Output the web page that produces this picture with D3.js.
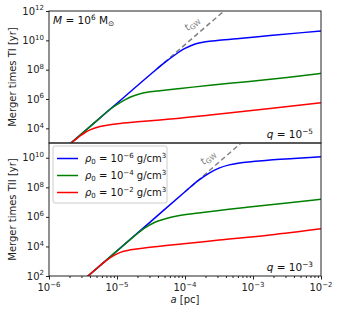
<!DOCTYPE html>
<html>
<head>
<meta charset="utf-8">
<script src="https://cdn.jsdelivr.net/npm/d3@7"></script>
<style>
  body { margin: 0; background: #fff; }
  text { font-family: 'DejaVu Sans', sans-serif; }
</style>
</head>
<body>
<svg id="chart" width="340" height="315"></svg>
<script>
// separation a [pc] and merger times [yr]
// panel I : q = 1e-5
const aBlueI  = [1.78e-6, 1e-5, 3.16e-5, 5.01e-5, 7.08e-5, 1e-4, 1.41e-4, 2e-4, 3.16e-4, 6.31e-4, 1.78e-3, 1e-2]
const tBlueI  = [5.1e2, 5.1e5, 5.1e7, 3.0e8, 1.0e9, 2.8e9, 5.6e9, 7.9e9, 1e10, 1.35e10, 2.1e10, 4.4e10]
const aGreenI = [1.78e-6, 5.01e-6, 7.94e-6, 1.11e-5, 1.55e-5, 2.19e-5, 3.05e-5, 4.27e-5, 8.51e-5, 2.34e-4, 8.13e-4, 3.16e-3, 1e-2]
const tGreenI = [5.1e2, 3.2e4, 2.0e5, 5.6e5, 1.32e6, 2.3e6, 3.1e6, 3.7e6, 5.2e6, 8.7e6, 1.51e7, 2.95e7, 5.6e7]
const aRedI   = [1.78e-6, 2.4e-6, 2.86e-6, 3.39e-6, 4.01e-6, 5.62e-6, 7.94e-6, 1.11e-5, 2.24e-5, 4.27e-5, 2.34e-4, 1.78e-3, 1e-2]
const tRedI   = [5.2e2, 1.58e3, 3.0e3, 5.2e3, 7.9e3, 1.32e4, 1.78e4, 2.14e4, 2.9e4, 3.7e4, 8.1e4, 2.24e5, 5.6e5]
const aGwI    = [4e-5, 4e-4]
const tGwI    = [1.3e8, 1.3e12]

// panel II : q = 1e-3
const aBlueII  = [3.16e-6, 1e-5, 3.16e-5, 1e-4, 1.58e-4, 2.24e-4, 3.16e-4, 4.47e-4, 6.31e-4, 1e-3, 1.78e-3, 3.98e-3, 1e-2]
const tBlueII  = [5e1, 5e3, 5e5, 5e7, 3.0e8, 8.9e8, 2.0e9, 3.3e9, 4.5e9, 5.5e9, 7.1e9, 8.9e9, 1.17e10]
const aGreenII = [3.16e-6, 1e-5, 1.78e-5, 2.51e-5, 3.55e-5, 5.01e-5, 7.94e-5, 1.58e-4, 8.13e-4, 3.16e-3, 1e-2]
const tGreenII = [5e1, 5e3, 4.8e4, 1.66e5, 4.2e5, 7.2e5, 1.2e6, 1.86e6, 4.5e6, 8.7e6, 1.55e7]
const aRedII   = [3.16e-6, 5.01e-6, 7.08e-6, 8.91e-6, 1.12e-5, 1.58e-5, 2.51e-5, 6.31e-5, 3.16e-4, 1.78e-3, 1e-2]
const tRedII   = [5e1, 3.2e2, 1.17e3, 2.4e3, 4.0e3, 5.9e3, 7.9e3, 1.26e4, 2.7e4, 6.0e4, 1.58e5]
const aGwII    = [1e-4, 1e-3]
const tGwII    = [5e7, 5e11]

const xTickExp  = ['−6', '−5', '−4', '−3', '−2']
const yTickExpI  = ['4', '6', '8', '10', '12']
const yTickExpII = ['2', '4', '6', '8', '10']
const densityExp = ['−6', '−4', '−2']

const colors = ['#0000ff', '#008000', '#ff0000']

const svg = d3.select('#chart')
const left = 49, right = 321

const x = d3.scaleLog().domain([1e-6, 1e-2]).range([left, right])

// text with super/subscripts: parts = [[string, 'n'|'sup'|'sub'|'i'], ...]
function richText(sel, parts, size) {
    let shift = 0
    parts.forEach(([s, kind]) => {
        const ts = sel.append('tspan').text(s)
        let target = 0
        if (kind === 'sup') target = -size * 0.42
        if (kind === 'sub') target = size * 0.22
        ts.attr('dy', target - shift)
        shift = target
        if (kind === 'sup' || kind === 'sub') ts.attr('font-size', size * 0.7)
        if (kind === 'i') ts.attr('font-style', 'italic')
    })
    return sel
}

function drawPanel({ top, bottom, yDomain, yTickExp, series, gwA, gwT, gwLabel, qExp, yLabel, clipId }) {
    const y = d3.scaleLog().domain(yDomain).range([bottom, top])
    const g = svg.append('g')

    g.append('clipPath').attr('id', clipId)
        .append('rect').attr('x', left).attr('y', top)
        .attr('width', right - left).attr('height', bottom - top)

    const plot = g.append('g').attr('clip-path', `url(#${clipId})`)

    const line = d3.line()
        .x(d => x(d[0]))
        .y(d => y(d[1]))
        .curve(d3.curveMonotoneX)

    // t_GW dashed line
    plot.append('path')
        .attr('d', line(d3.zip(gwA, gwT)))
        .attr('fill', 'none')
        .attr('stroke', '#808080')
        .attr('stroke-width', 1.5)
        .attr('stroke-dasharray', '5,3')

    series.forEach(([a, t], i) => {
        plot.append('path')
            .attr('d', line(d3.zip(a, t)))
            .attr('fill', 'none')
            .attr('stroke', colors[i])
            .attr('stroke-width', 1.5)
    })

    // t_GW label
    const angle = Math.atan2(y(gwT[0]) - y(gwT[1]), x(gwA[1]) - x(gwA[0])) * 180 / Math.PI
    richText(g.append('text')
        .attr('transform', `translate(${gwLabel[0]},${gwLabel[1]}) rotate(${-angle})`)
        .attr('text-anchor', 'middle')
        .attr('fill', '#808080')
        .attr('font-size', 10),
        [['t', 'i'], ['GW', 'sub']], 10)

    // y axis
    const yTicks = yTickExp.map(e => Math.pow(10, +e))
    const yAxis = g.append('g').attr('transform', `translate(${left},0)`)
        .call(d3.axisLeft(y).tickValues(yTicks).tickSize(3).tickFormat(''))
    yAxis.select('.domain').remove()
    yAxis.selectAll('line').attr('stroke', '#222')
    yTickExp.forEach((e, i) => {
        richText(g.append('text')
            .attr('x', left - 5).attr('y', y(yTicks[i]) + 3.5)
            .attr('text-anchor', 'end').attr('font-size', 10).attr('fill', '#222'),
            [['10', 'n'], [e, 'sup']], 10)
    })

    // y label
    richText(g.append('text')
        .attr('transform', `translate(16,${(top + bottom) / 2}) rotate(-90)`)
        .attr('text-anchor', 'middle').attr('font-size', 10).attr('fill', '#222'),
        [[yLabel, 'n']], 10)

    // q label
    richText(g.append('text')
        .attr('x', right - 8).attr('y', bottom - 5)
        .attr('text-anchor', 'end').attr('font-size', 10.5).attr('fill', '#111'),
        [['q', 'i'], [' = 10', 'n'], [qExp, 'sup']], 10.5)

    // frame
    g.append('rect')
        .attr('x', left).attr('y', top)
        .attr('width', right - left).attr('height', bottom - top)
        .attr('fill', 'none').attr('stroke', '#222').attr('stroke-width', 1)

    return y
}

drawPanel({
    top: 11, bottom: 143, yDomain: [1e3, 1e12], yTickExp: yTickExpI,
    series: [[aBlueI, tBlueI], [aGreenI, tGreenI], [aRedI, tRedI]],
    gwA: aGwI, gwT: tGwI, gwLabel: [194, 26], qExp: '−5',
    yLabel: 'Merger times TI [yr]', clipId: 'clipI'
})

drawPanel({
    top: 143, bottom: 276, yDomain: [1e2, 1e11], yTickExp: yTickExpII,
    series: [[aBlueII, tBlueII], [aGreenII, tGreenII], [aRedII, tRedII]],
    gwA: aGwII, gwT: tGwII, gwLabel: [210, 160], qExp: '−3',
    yLabel: 'Merger times TII [yr]', clipId: 'clipII'
})

// M label
richText(svg.append('text')
    .attr('x', 53).attr('y', 24).attr('font-size', 10.5).attr('fill', '#111'),
    [['M', 'i'], [' = 10', 'n'], ['6', 'sup'], [' M', 'n'], ['⊙', 'sub']], 10.5)

// x axis
const xAxis = svg.append('g').attr('transform', 'translate(0,276)')
    .call(d3.axisBottom(x).tickValues(x.ticks()).tickSize(3).tickFormat(''))
xAxis.select('.domain').remove()
xAxis.selectAll('line').attr('stroke', '#222')
    .attr('y2', d => Math.abs(Math.log10(d) - Math.round(Math.log10(d))) < 1e-9 ? 3.5 : 2)

xTickExp.forEach(e => {
    richText(svg.append('text')
        .attr('x', x(Math.pow(10, +e.replace('−', '-')))).attr('y', 291)
        .attr('text-anchor', 'middle').attr('font-size', 10).attr('fill', '#222'),
        [['10', 'n'], [e, 'sup']], 10)
})

richText(svg.append('text')
    .attr('x', (left + right) / 2).attr('y', 303)
    .attr('text-anchor', 'middle').attr('font-size', 10).attr('fill', '#222'),
    [['a', 'i'], [' [pc]', 'n']], 10)

// legend
const legend = svg.append('g')
legend.append('rect')
    .attr('x', 53).attr('y', 146).attr('width', 114).attr('height', 57).attr('rx', 2)
    .attr('fill', '#fff').attr('fill-opacity', 0.85)
    .attr('stroke', '#cccccc').attr('stroke-width', 1)
densityExp.forEach((e, i) => {
    const ly = 158.5 + i * 17
    legend.append('line')
        .attr('x1', 57).attr('x2', 78).attr('y1', ly).attr('y2', ly)
        .attr('stroke', colors[i]).attr('stroke-width', 1.5)
    richText(legend.append('text')
        .attr('x', 85).attr('y', ly + 3.5).attr('font-size', 10).attr('fill', '#111'),
        [['ρ', 'i'], ['0', 'sub'], [' = 10', 'n'], [e, 'sup'], [' g/cm', 'n'], ['3', 'sup']], 10)
})
</script>
</body>
</html>
